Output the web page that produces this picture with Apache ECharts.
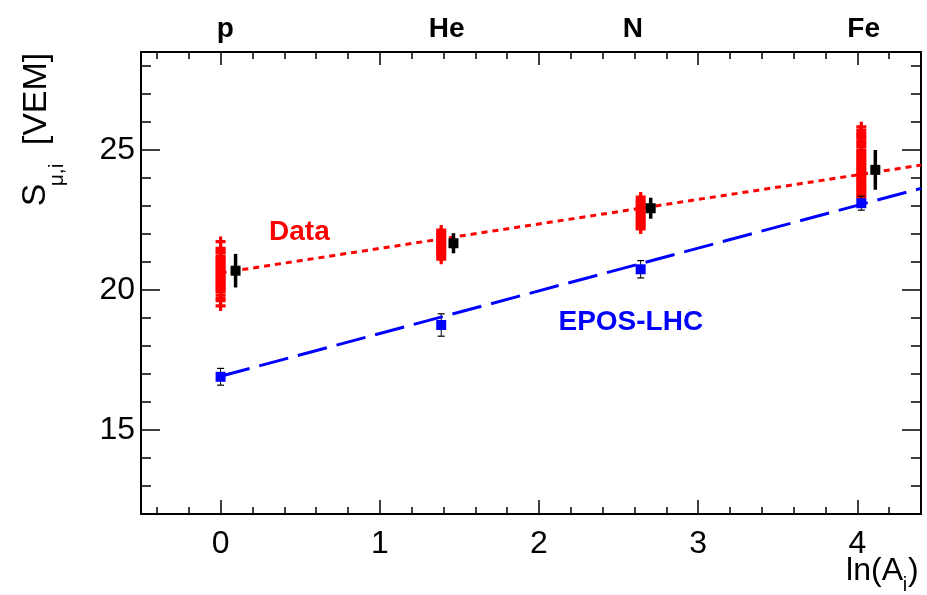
<!DOCTYPE html>
<html>
<head>
<meta charset="utf-8">
<script src="https://cdn.jsdelivr.net/npm/echarts@6/dist/echarts.min.js"></script>
<style>
  html, body { margin: 0; padding: 0; background: #fff; }
  #chart { width: 927px; height: 595px; }
</style>
</head>
<body>
<div id="chart"></div>
<script>
// Primary masses: element names and ln(A) positions
const elements = ['p', 'He', 'N', 'Fe'];
const lnA = [0, 1.386, 2.639, 4.025];
const elementLabelX = [0.03, 1.42, 2.59, 4.04];

// Individual muon-signal estimates per primary (red crosses)
const dataP = [21.73, 21.49, 21.40, 21.33, 21.21, 21.13, 21.06, 20.99, 20.92, 20.85, 20.78, 20.71,
  20.64, 20.57, 20.50, 20.43, 20.36, 20.29, 20.22, 20.15, 20.08, 20.01, 19.94, 19.82, 19.70, 19.62, 19.43];
const dataHe = [22.14, 22.05, 21.98, 21.91, 21.84, 21.77, 21.70, 21.63, 21.56, 21.49, 21.42, 21.35,
  21.28, 21.20, 21.10];
const dataN = [23.32, 23.22, 23.14, 23.06, 22.98, 22.90, 22.82, 22.74, 22.66, 22.58, 22.50, 22.42,
  22.34, 22.26, 22.18];
const dataFe = [25.83, 25.71, 25.60, 25.51, 25.42, 25.32, 25.24, 25.12, 25.00, 24.92, 24.84, 24.76,
  24.68, 24.60, 24.52, 24.44, 24.36, 24.28, 24.20, 24.12, 24.04, 23.96, 23.88, 23.80, 23.72, 23.64,
  23.56, 23.48, 23.40, 23.32];
const dataColumns = [dataP, dataHe, dataN, dataFe];

// Mean data points (black) with uncertainties
const meanX = [0.094, 1.463, 2.702, 4.113];
const meanY = [20.69, 21.67, 22.92, 24.29];
const meanErr = [0.60, 0.36, 0.375, 0.71];

// EPOS-LHC predictions (blue)
const eposY = [16.90, 18.75, 20.74, 23.10];
const eposErr = [0.30, 0.40, 0.31, 0.25];

// Linear fits: endpoints in ln(A)
const fitX = [0, 4.4];
const dataFitY = [20.61, 24.46];
const eposFitY = [16.92, 23.63];

// Axis ticks
const xMajor = [0, 1, 2, 3, 4];
const xMinor = [-0.4, -0.2, 0.2, 0.4, 0.6, 0.8, 1.2, 1.4, 1.6, 1.8, 2.2, 2.4, 2.6, 2.8,
  3.2, 3.4, 3.6, 3.8, 4.2];
const yMajor = [15, 20, 25];
const yMinor = [13, 14, 16, 17, 18, 19, 21, 22, 23, 24, 26, 27, 28];

const FONT = '"Liberation Sans", Arial, Helvetica, sans-serif';
const RED = '#ff0000';
const BLUE = '#0000ff';
const X_MIN = -0.5, X_MAX = 4.4, Y_MIN = 12, Y_MAX = 28.5;
const gridBox = { left: 141, right: 6, top: 52, bottom: 81, show: false };

function xAxisDef(gridIndex, position, ticks, len, withLabels, withLine) {
  return {
    type: 'value', gridIndex, position, min: X_MIN, max: X_MAX,
    axisLine: { show: withLine, onZero: false, lineStyle: { color: '#000', width: 2 } },
    axisTick: { show: true, inside: true, length: len, customValues: ticks,
      lineStyle: { color: '#000', width: 1.5 } },
    axisLabel: withLabels
      ? { show: true, customValues: ticks, fontSize: 32, color: '#000', fontFamily: FONT, margin: 14 }
      : { show: false },
    splitLine: { show: false }
  };
}
function yAxisDef(gridIndex, position, ticks, len, withLabels, withLine) {
  return {
    type: 'value', gridIndex, position, min: Y_MIN, max: Y_MAX,
    axisLine: { show: withLine, onZero: false, lineStyle: { color: '#000', width: 2 } },
    axisTick: { show: true, inside: true, length: len, customValues: ticks,
      lineStyle: { color: '#000', width: 1.5 } },
    axisLabel: withLabels
      ? { show: true, customValues: ticks, fontSize: 32, color: '#000', fontFamily: FONT, margin: 6 }
      : { show: false },
    splitLine: { show: false }
  };
}

// Red crosses: one point per estimate, at the primary's ln(A)
const crossPoints = [];
dataColumns.forEach((col, i) => col.forEach(v => crossPoints.push([lnA[i], v])));

const meanPoints = meanX.map((x, i) => [x, meanY[i], meanErr[i]]);
const eposPoints = lnA.map((x, i) => [x, eposY[i], eposErr[i]]);

function renderMean(params, api) {
  const x = api.value(0), y = api.value(1), e = api.value(2);
  const c = api.coord([x, y]);
  const t = api.coord([x, y + e]);
  const b = api.coord([x, y - e]);
  return {
    type: 'group',
    children: [
      { type: 'line', shape: { x1: t[0], y1: t[1], x2: b[0], y2: b[1] },
        style: { stroke: '#000', lineWidth: 3.5 } },
      { type: 'rect', shape: { x: c[0] - 5, y: c[1] - 5, width: 10, height: 10 },
        style: { fill: '#000' } }
    ]
  };
}
function renderEpos(params, api) {
  const x = api.value(0), y = api.value(1), e = api.value(2);
  const c = api.coord([x, y]);
  const t = api.coord([x, y + e]);
  const b = api.coord([x, y - e]);
  const cap = 3.5;
  return {
    type: 'group',
    children: [
      { type: 'line', shape: { x1: t[0], y1: t[1], x2: b[0], y2: b[1] },
        style: { stroke: '#000', lineWidth: 1 } },
      { type: 'line', shape: { x1: t[0] - cap, y1: t[1], x2: t[0] + cap, y2: t[1] },
        style: { stroke: '#000', lineWidth: 1.2 } },
      { type: 'line', shape: { x1: b[0] - cap, y1: b[1], x2: b[0] + cap, y2: b[1] },
        style: { stroke: '#000', lineWidth: 1.2 } },
      { type: 'rect', shape: { x: c[0] - 5, y: c[1] - 5, width: 10, height: 10 },
        style: { fill: BLUE } }
    ]
  };
}

const chart = echarts.init(document.getElementById('chart'), null, { renderer: 'canvas' });

chart.setOption({
  animation: false,
  backgroundColor: '#fff',
  grid: [Object.assign({}, gridBox), Object.assign({}, gridBox)],
  xAxis: [
    xAxisDef(0, 'bottom', xMajor, 14, true, true),
    xAxisDef(0, 'top', xMajor, 13, false, true),
    xAxisDef(1, 'bottom', xMinor, 7, false, false),
    xAxisDef(1, 'top', xMinor, 7, false, false)
  ],
  yAxis: [
    yAxisDef(0, 'left', yMajor, 19, true, true),
    yAxisDef(0, 'right', yMajor, 19, false, true),
    yAxisDef(1, 'left', yMinor, 10, false, false),
    yAxisDef(1, 'right', yMinor, 10, false, false)
  ],
  series: [
    {
      name: 'Data', type: 'scatter', xAxisIndex: 0, yAxisIndex: 0,
      data: crossPoints,
      symbol: 'path://M3.4,0H6.6V3.4H10V6.6H6.6V10H3.4V6.6H0V3.4H3.4Z',
      symbolSize: 10,
      itemStyle: { color: RED, opacity: 1 },
      z: 2
    },
    {
      name: 'EPOS-LHC points', type: 'custom', xAxisIndex: 0, yAxisIndex: 0,
      data: eposPoints, renderItem: renderEpos, z: 3
    },
    {
      name: 'Data fit', type: 'line', xAxisIndex: 0, yAxisIndex: 0,
      data: fitX.map((x, i) => [x, dataFitY[i]]),
      showSymbol: false, symbol: 'none',
      lineStyle: { color: RED, width: 3, type: [6, 5] }, z: 4
    },
    {
      name: 'EPOS-LHC fit', type: 'line', xAxisIndex: 0, yAxisIndex: 0,
      data: fitX.map((x, i) => [x, eposFitY[i]]),
      showSymbol: false, symbol: 'none',
      lineStyle: { color: BLUE, width: 3, type: [30, 10] }, z: 4
    },
    {
      name: 'Data mean', type: 'custom', xAxisIndex: 0, yAxisIndex: 0,
      data: meanPoints, renderItem: renderMean, z: 5
    }
  ]
});

// Text annotations placed through the axis scales
function px(x, y) {
  return chart.convertToPixel({ xAxisIndex: 0, yAxisIndex: 0 }, [x, y]);
}
const graphics = [];
elements.forEach((name, i) => {
  const p = px(elementLabelX[i], Y_MAX);
  graphics.push({ type: 'text', x: p[0], y: 29,
    style: { text: name, font: 'bold 28px ' + FONT, fill: '#000', align: 'center', verticalAlign: 'middle' } });
});
const dataLbl = px(0.495, 22.07);
graphics.push({ type: 'text', x: dataLbl[0], y: dataLbl[1],
  style: { text: 'Data', font: 'bold 28px ' + FONT, fill: RED, align: 'center', verticalAlign: 'middle' } });
const eposLbl = px(2.577, 18.86);
graphics.push({ type: 'text', x: eposLbl[0], y: eposLbl[1],
  style: { text: 'EPOS-LHC', font: 'bold 28px ' + FONT, fill: BLUE, align: 'center', verticalAlign: 'middle' } });

// Y axis title: S_{mu,i} [VEM], reading upward
graphics.push({ type: 'text', x: 36, y: 195, rotation: Math.PI / 2,
  style: { text: 'S', font: '34px ' + FONT, fill: '#000', align: 'center', verticalAlign: 'middle' } });
graphics.push({ type: 'text', x: 57, y: 175, rotation: Math.PI / 2,
  style: { text: 'μ,i', font: '21px ' + FONT, fill: '#000', align: 'center', verticalAlign: 'middle' } });
graphics.push({ type: 'text', x: 37, y: 99, rotation: Math.PI / 2,
  style: { text: '[VEM]', font: '34px ' + FONT, fill: '#000', align: 'center', verticalAlign: 'middle' } });

// X axis title: ln(A_i)
graphics.push({ type: 'text', x: 903, y: 571,
  style: { text: 'ln(A', font: '32px ' + FONT, fill: '#000', align: 'right', verticalAlign: 'middle' } });
graphics.push({ type: 'text', x: 905, y: 585,
  style: { text: 'i', font: '20px ' + FONT, fill: '#000', align: 'center', verticalAlign: 'middle' } });
graphics.push({ type: 'text', x: 908, y: 571,
  style: { text: ')', font: '32px ' + FONT, fill: '#000', align: 'left', verticalAlign: 'middle' } });

chart.setOption({ graphic: graphics });
</script>
</body>
</html>
